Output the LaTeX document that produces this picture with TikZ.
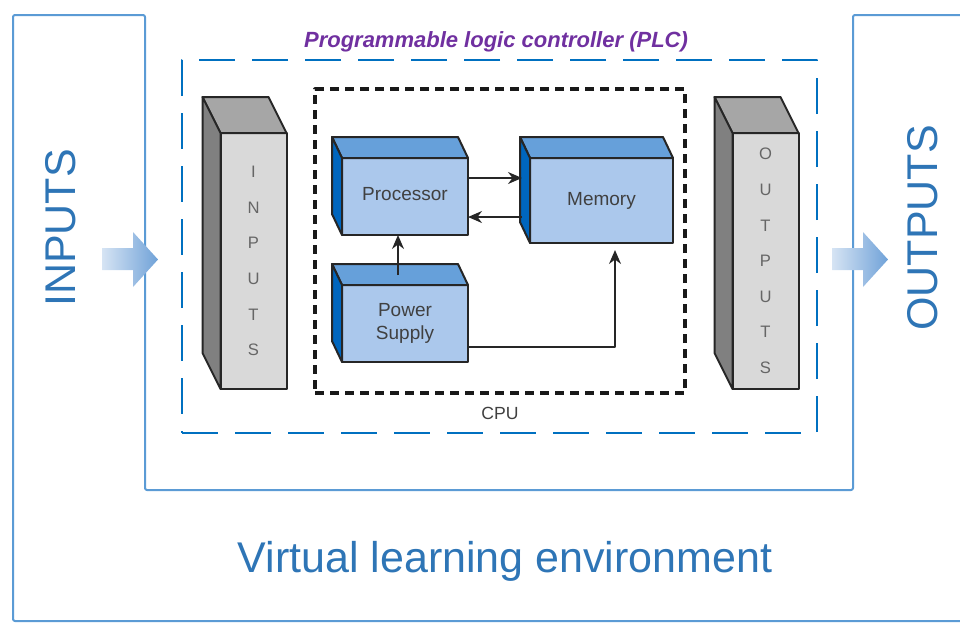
\documentclass[tikz,border=0pt]{standalone}
\usepackage{fontspec}
\setmainfont{Liberation Sans}
\usetikzlibrary{arrows.meta,shapes,positioning}
\definecolor{framec}{RGB}{91,155,213}
\definecolor{vletext}{RGB}{46,117,182}
\definecolor{plcc}{RGB}{0,112,192}
\definecolor{plcpurple}{RGB}{112,48,160}
\definecolor{bfront}{RGB}{171,200,236}
\definecolor{btop}{RGB}{102,160,218}
\definecolor{bside}{RGB}{0,102,190}
\definecolor{gfront}{RGB}{217,217,217}
\definecolor{gtop}{RGB}{166,166,166}
\definecolor{gside}{RGB}{128,128,128}
\definecolor{arrlight}{RGB}{214,228,244}
\definecolor{arrdark}{RGB}{112,162,216}

\begin{document}
\begin{tikzpicture}[x=0.5pt,y=-0.5pt,line join=round]
\tikzstyle{blk}=[draw=black!85, line width=1pt, inner sep=0pt, outer sep=0pt]
\tikzstyle{cpuunit}=[blk, fill=bfront, minimum width=63pt, minimum height=38.5pt, font=\fontsize{9.5}{11.5}\selectfont, text=black!75, align=center]
\tikzstyle{column}=[blk, fill=gfront, minimum width=33pt, minimum height=128pt, font=\fontsize{8.3}{17.8}\selectfont, text=black!60, align=center]
\tikzstyle{link}=[-{Stealth[length=7pt,width=6pt]}, line width=0.9pt, black!85]
\tikzstyle{bigword}=[text=vletext, font=\fontsize{21.5}{24}\selectfont]
\tikzstyle{fatarrow}=[left color=arrlight, right color=arrdark, draw=none]

\useasboundingbox (0,0) rectangle (960,628);

% environment frame
\draw[framec, line width=1pt, rounded corners=1pt] (960,15) -- (853,15) -- (853,490) -- (145,490) -- (145,15) -- (13,15) -- (13,621) -- (960,621);
\node[bigword, rotate=90] (inlbl) at (61,228) {INPUTS};
\node[bigword, rotate=90] (outlbl) at (923,228) {OUTPUTS};
\node[bigword, anchor=base] (vle) at (505,572) {Virtual learning environment};
\shade[fatarrow] (102,248) -- (133,248) -- (133,232) -- (158,259.5) -- (133,287) -- (133,270) -- (102,270) -- cycle;
\shade[fatarrow] (832,248) -- (863,248) -- (863,232) -- (888,259.5) -- (863,287) -- (863,270) -- (832,270) -- cycle;

% PLC
\node[draw=plcc, line width=1.3pt, dash pattern=on 18pt off 8.5pt, minimum width=317.5pt, minimum height=186.5pt] (plc) at (499.5,246.5) {};
\node[anchor=base, text=plcpurple, font=\fontsize{11}{13}\selectfont\bfseries\itshape] (plctitle) at (496,47) {Programmable logic controller (PLC)};
\node[draw=black!90, line width=1.6pt, dash pattern=on 4.5pt off 3pt, minimum width=185pt, minimum height=152pt,
      label={[font=\fontsize{8.8}{10}\selectfont, text=black!75, label distance=3pt]below:CPU}] (cpu) at (500,241) {};

\node[column] (inp) at (253.5,261) {I\\N\\P\\U\\T\\S};
\node[column] (outp) at (765.5,261) {O\\U\\T\\P\\U\\T\\S};
\foreach \n in {inp,outp} {
    \draw[blk, fill=gtop] (\n.north west) -- ++(-9pt,18pt) -- ([shift={(-9pt,18pt)}]\n.north east) -- (\n.north east) -- cycle;
    \draw[blk, fill=gside] (\n.north west) -- ++(-9pt,18pt) -- ([shift={(-9pt,18pt)}]\n.south west) -- (\n.south west) -- cycle;
}

\node[cpuunit] (proc) at (405,196.5) {\raisebox{3pt}{Processor}};
\node[cpuunit] (pow) at (405,323.5) {Power\\Supply};
\node[cpuunit, minimum width=71.5pt, minimum height=42.5pt] (mem) at (601.5,200.5) {Memory};
\foreach \n in {proc,mem,pow} {
    \draw[blk, fill=btop] (\n.north west) -- ++(-5pt,10.5pt) -- ([shift={(-5pt,10.5pt)}]\n.north east) -- (\n.north east) -- cycle;
    \draw[blk, fill=bside] (\n.north west) -- ++(-5pt,10.5pt) -- ([shift={(-5pt,10.5pt)}]\n.south west) -- (\n.south west) -- cycle;
}
\coordinate (memside) at ([xshift=-4pt]mem.west);

\draw[link] ([yshift=9.25pt]proc.east) -- ([yshift=9.25pt]proc.east -| memside);
\draw[link] ([yshift=-10.25pt]proc.east -| memside) -- ([yshift=-10.25pt]proc.east);
\draw[link] ([shift={(-3.5pt,5pt)}]pow.north) -- ([xshift=-3.5pt]proc.south);
\draw[link] ([yshift=-11.75pt]pow.east) -| ([shift={(6.75pt,-3.5pt)}]mem.south);
\end{tikzpicture}
\end{document}
